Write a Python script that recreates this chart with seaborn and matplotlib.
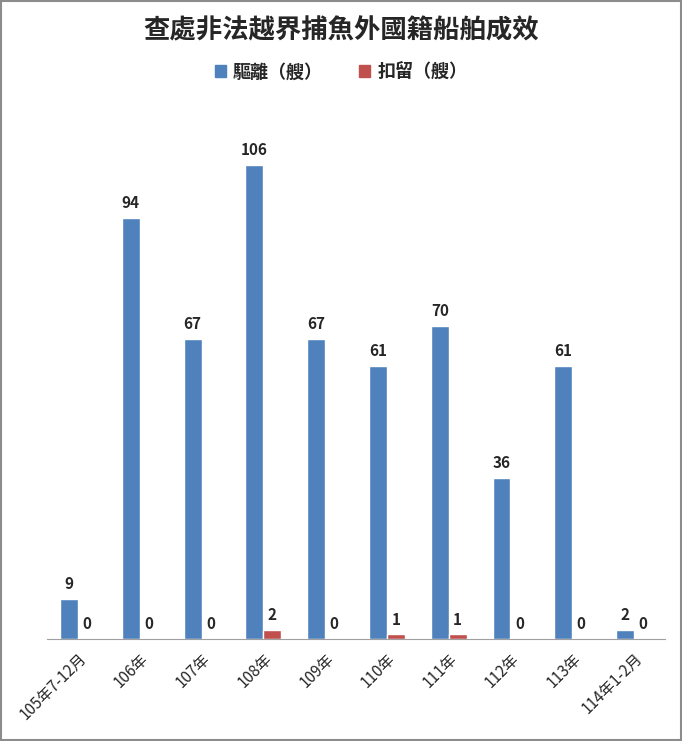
import pandas as pd
import seaborn as sns
import matplotlib.pyplot as plt
from matplotlib.patches import Rectangle

# data
periods = ["105年7-12月", "106年", "107年", "108年", "109年",
           "110年", "111年", "112年", "113年", "114年1-2月"]
expelled = [9, 94, 67, 106, 67, 61, 70, 36, 61, 2]
detained = [0, 0, 0, 2, 0, 1, 1, 0, 0, 0]
series = ["驅離（艘）", "扣留（艘）"]
colors = ["#4F81BD", "#C0504D"]

df = pd.DataFrame({
    "period": periods * 2,
    "count": expelled + detained,
    "type": [series[0]] * len(periods) + [series[1]] * len(periods),
})

sns.set_style("white")
plt.rcParams["font.family"] = ["Noto Sans CJK TC", "DejaVu Sans"]

fig = plt.figure(figsize=(6.82, 7.41), dpi=100)
ax = fig.add_axes([0.069, 0.1377, 0.906, 0.7245])

sns.barplot(data=df, x="period", y="count", hue="type", palette=colors,
            width=0.58, saturation=1, ax=ax, legend=False)

for cont in ax.containers:
    ax.bar_label(cont, padding=5, fontsize=11, fontweight="bold")

ax.set_ylim(0, 120)
ax.set_xlim(-0.5, len(periods) - 0.5)
ax.set_yticks([])
ax.set_xlabel("")
ax.set_ylabel("")
for s in ["top", "right", "left"]:
    ax.spines[s].set_visible(False)
ax.spines["bottom"].set_color("#A0A0A0")
ax.tick_params(axis="x", length=0, pad=8)
plt.setp(ax.get_xticklabels(), rotation=45, ha="right",
         rotation_mode="anchor", fontsize=11)

fig.text(0.5, 0.958, "查處非法越界捕魚外國籍船舶成效", ha="center", va="center",
         fontsize=19, fontweight="bold")

handles = [Rectangle((0, 0), 1, 1, color=c) for c in colors]
leg = fig.legend(handles, series, loc="center", bbox_to_anchor=(0.5, 0.903),
                 ncol=2, frameon=False, handlelength=0.6, handleheight=0.6,
                 columnspacing=2.0, handletextpad=0.4,
                 prop={"size": 13, "weight": "bold"})

fig.add_artist(Rectangle((0.001, 0.001), 0.997, 0.997, transform=fig.transFigure,
                         fill=False, edgecolor="#8C8C8C", linewidth=1.5))

fig.savefig("out.png", dpi=100)
